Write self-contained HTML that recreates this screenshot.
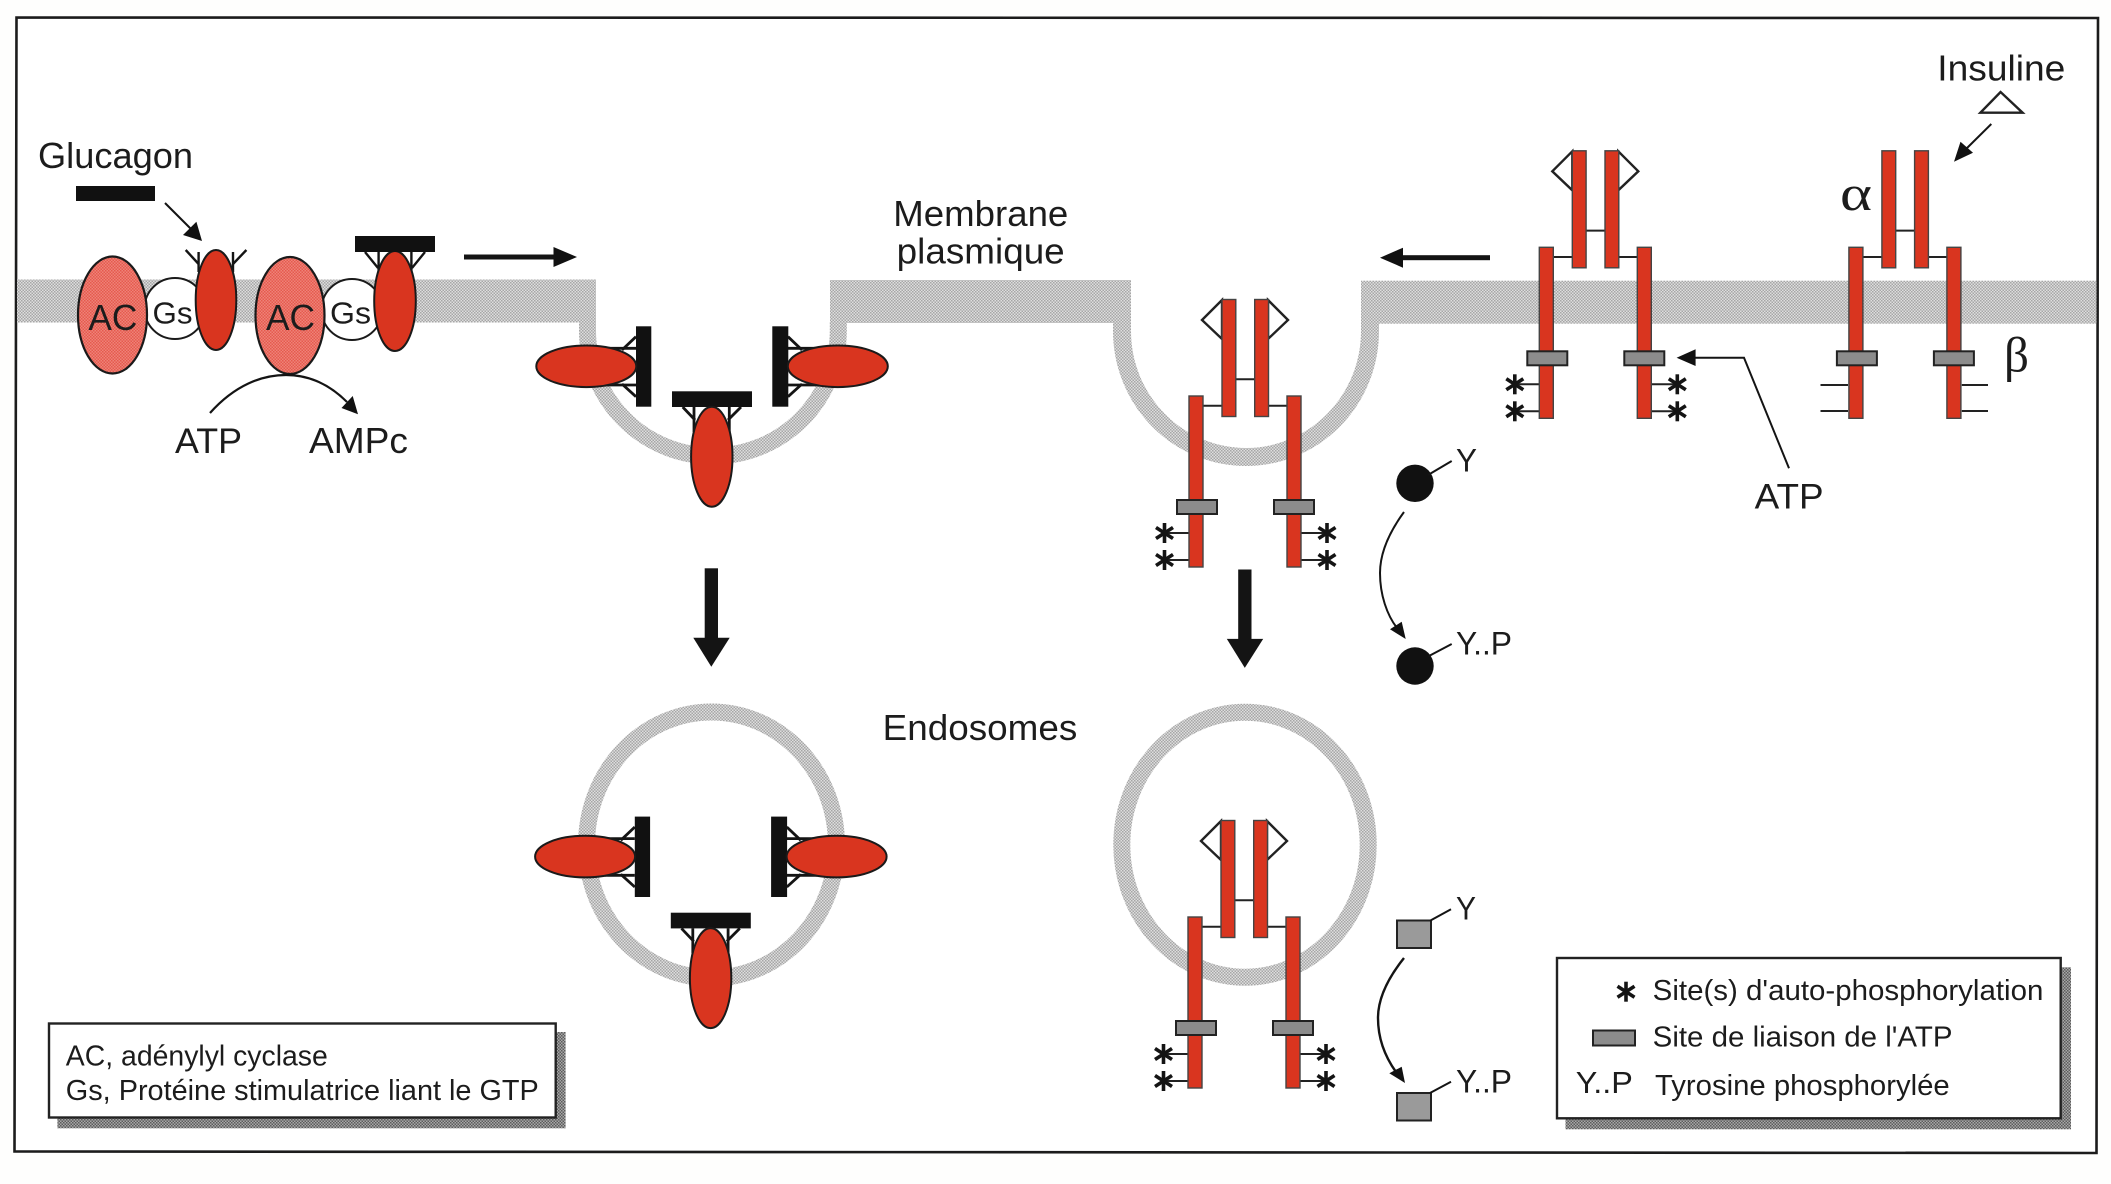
<!DOCTYPE html>
<html><head><meta charset="utf-8">
<style>
html,body{margin:0;padding:0;background:#fefefd;}
svg{display:block;}
text{font-family:"Liberation Sans",sans-serif;fill:#1c1c1c;}
</style></head>
<body>
<svg xmlns="http://www.w3.org/2000/svg" width="2111" height="1184" viewBox="0 0 2111 1184">
<defs>
<pattern id="mem" width="3" height="3" patternUnits="userSpaceOnUse">
<rect width="3" height="3" fill="#dedede"/><rect width="1.5" height="1.5" fill="#a6a6a6"/><rect x="1.5" y="1.5" width="1.5" height="1.5" fill="#a6a6a6"/>
</pattern>
<pattern id="shd" width="3" height="3" patternUnits="userSpaceOnUse">
<rect width="3" height="3" fill="#a8a8a8"/><rect width="1.5" height="1.5" fill="#5c5c5c"/><rect x="1.5" y="1.5" width="1.5" height="1.5" fill="#5c5c5c"/>
</pattern>
<pattern id="sal" width="3" height="3" patternUnits="userSpaceOnUse">
<rect width="3" height="3" fill="#ee8378"/><rect width="1.5" height="1.5" fill="#e55a4e"/><rect x="1.5" y="1.5" width="1.5" height="1.5" fill="#e55a4e"/>
</pattern>
<g id="star" stroke="#141414" stroke-width="3.6" fill="none">
<line x1="0" y1="-10" x2="0" y2="10"/><line x1="-8.5" y1="-5.5" x2="8.5" y2="5.5"/><line x1="-8.5" y1="5.5" x2="8.5" y2="-5.5"/>
</g>
<g id="rec">
<g stroke="#222" stroke-width="2" fill="none">
<line x1="1203" y1="405.7" x2="1222" y2="405.7"/><line x1="1268" y1="405.7" x2="1287" y2="405.7"/><line x1="1235" y1="379.3" x2="1255" y2="379.3"/>
</g>
<g fill="#d9351f" stroke="#444" stroke-width="1.4">
<rect x="1222" y="299.5" width="13.8" height="117"/><rect x="1254.7" y="299.5" width="13.8" height="117"/>
<rect x="1189" y="396" width="14" height="171"/><rect x="1287" y="396" width="14" height="171"/>
</g>
<g fill="#8c8c8c" stroke="#222" stroke-width="2">
<rect x="1177" y="500" width="40" height="14"/><rect x="1274" y="500" width="40" height="14"/>
</g>
</g>
<g id="dia" fill="#fff" stroke="#222" stroke-width="2.4">
<polygon points="1222,300 1202,320 1222,339"/><polygon points="1268,300 1288,320 1268,339"/>
</g>
<g id="stars">
<g stroke="#222" stroke-width="2">
<line x1="1165" y1="533" x2="1189" y2="533"/><line x1="1165" y1="560" x2="1189" y2="560"/>
<line x1="1301" y1="533" x2="1327" y2="533"/><line x1="1301" y1="560" x2="1327" y2="560"/>
</g>
<use href="#star" x="1164.5" y="533"/><use href="#star" x="1164.5" y="560"/>
<use href="#star" x="1327" y="533"/><use href="#star" x="1327" y="560"/>
</g>
<g id="glucset">
<g stroke="#141414" stroke-width="2.8" fill="none">
<line x1="636" y1="336.7" x2="622" y2="350"/><line x1="606" y1="348.3" x2="636" y2="348.3"/>
<line x1="636" y1="396.7" x2="622" y2="384"/><line x1="606" y1="385" x2="636" y2="385"/>
<line x1="788" y1="336.7" x2="802" y2="350"/><line x1="788" y1="348.3" x2="818" y2="348.3"/>
<line x1="788" y1="396.7" x2="802" y2="384"/><line x1="788" y1="385" x2="818" y2="385"/>
</g>
<rect x="636" y="326.3" width="15.3" height="80.4" fill="#111"/>
<rect x="772.3" y="326.3" width="16" height="80.4" fill="#111"/>
<ellipse cx="586.3" cy="366.3" rx="50" ry="20.8" fill="#d9351f" stroke="#1a1a1a" stroke-width="2"/>
<ellipse cx="837.8" cy="366.3" rx="50" ry="20.8" fill="#d9351f" stroke="#1a1a1a" stroke-width="2"/>
</g>
<g id="glucbot">
<g stroke="#141414" stroke-width="2.8" fill="none">
<line x1="682.7" y1="407" x2="695" y2="420"/><line x1="694" y1="407" x2="694" y2="432"/>
<line x1="741" y1="407" x2="728" y2="420"/><line x1="729.3" y1="407" x2="729.3" y2="432"/>
</g>
<rect x="672" y="391.3" width="80" height="15.7" fill="#111"/>
<ellipse cx="711.8" cy="456.7" rx="20.7" ry="50" fill="#d9351f" stroke="#1a1a1a" stroke-width="2"/>
</g>
<g id="downarrow"><rect x="704.7" y="568.3" width="13.3" height="70" fill="#141414"/><polygon points="693.3,637.7 729.7,637.7 711.3,666.7" fill="#141414"/></g>
</defs>

<rect width="2111" height="1184" fill="#fefefd"/>

<!-- frame -->
<polygon points="16.5,17.5 2098,18 2096.5,1153 14.5,1151.5" fill="#ffffff" stroke="#1c1c1c" stroke-width="2.6"/>

<!-- membrane -->
<rect x="17" y="279.5" width="579" height="43" fill="url(#mem)"/>
<rect x="830" y="280" width="301" height="43" fill="url(#mem)"/>
<rect x="1361" y="280.7" width="735.5" height="43" fill="url(#mem)"/>
<path d="M587.5,322 L587.5,330.6 A125.4,125.4 0 0 0 838.3,330.6 L838.3,322" fill="none" stroke="url(#mem)" stroke-width="17"/>
<path d="M1122,322 L1122,331 A124,126 0 0 0 1370,331 L1370,322" fill="none" stroke="url(#mem)" stroke-width="18"/>
<!-- endosomes -->
<ellipse cx="711.5" cy="845" rx="125" ry="133" fill="none" stroke="url(#mem)" stroke-width="17"/>
<ellipse cx="1245" cy="844.7" rx="123.2" ry="132.5" fill="none" stroke="url(#mem)" stroke-width="17"/>

<!-- Glucagon -->
<text x="38" y="168" font-size="36" textLength="155" lengthAdjust="spacingAndGlyphs">Glucagon</text>
<rect x="76" y="186" width="79" height="15" fill="#111"/>
<line x1="165" y1="203" x2="194" y2="232" stroke="#141414" stroke-width="2"/>
<polygon points="202,241 183,235 196.4,221.7" fill="#111"/>

<!-- prongs on first receptor -->
<g stroke="#141414" stroke-width="2.4" fill="none">
<line x1="185.7" y1="250" x2="198.6" y2="264"/><line x1="198.6" y1="252" x2="198.6" y2="272"/>
<line x1="246.4" y1="250" x2="233" y2="264"/><line x1="233" y1="252" x2="233" y2="272"/>
<line x1="365" y1="252" x2="378" y2="268"/><line x1="378.6" y1="252" x2="378.6" y2="275"/>
<line x1="425" y1="252" x2="412" y2="268"/><line x1="411.4" y1="252" x2="411.4" y2="275"/>
</g>

<circle cx="175" cy="308.5" r="30.5" fill="#fff" stroke="#1a1a1a" stroke-width="2"/>
<ellipse cx="112.5" cy="315" rx="34.5" ry="58.5" fill="url(#sal)" stroke="#1a1a1a" stroke-width="2.2"/>
<ellipse cx="216" cy="300" rx="20.3" ry="50" fill="#d9351f" stroke="#1a1a1a" stroke-width="2"/>
<text x="152.5" y="323.5" font-size="31" textLength="40" lengthAdjust="spacingAndGlyphs">Gs</text>
<text x="88.4" y="330" font-size="36" textLength="49" lengthAdjust="spacingAndGlyphs">AC</text>

<circle cx="352" cy="309.5" r="30.5" fill="#fff" stroke="#1a1a1a" stroke-width="2"/>
<ellipse cx="290" cy="315.5" rx="34.5" ry="58.5" fill="url(#sal)" stroke="#1a1a1a" stroke-width="2.2"/>
<ellipse cx="395" cy="301" rx="20.8" ry="50" fill="#d9351f" stroke="#1a1a1a" stroke-width="2"/>
<rect x="355" y="236" width="80" height="16" fill="#111"/>
<text x="330" y="323.5" font-size="31" textLength="41" lengthAdjust="spacingAndGlyphs">Gs</text>
<text x="266" y="330" font-size="36" textLength="49" lengthAdjust="spacingAndGlyphs">AC</text>

<path d="M210,413 C235,385 262,375 286,375 C310,375 330,385 347,402" fill="none" stroke="#141414" stroke-width="2.2"/>
<polygon points="358,414.3 341.5,408 352.7,396" fill="#111"/>
<text x="175" y="453" font-size="35" textLength="67" lengthAdjust="spacingAndGlyphs">ATP</text>
<text x="309" y="453" font-size="36" textLength="99" lengthAdjust="spacingAndGlyphs">AMPc</text>

<!-- horizontal arrows -->
<rect x="464" y="254.5" width="90" height="5" fill="#141414"/>
<polygon points="553.5,247 577,257 553.5,267" fill="#111"/>
<rect x="1402" y="255.2" width="88" height="5" fill="#141414"/>
<polygon points="1403,247.7 1380,257.7 1403,267.7" fill="#111"/>

<!-- Pit 1 -->
<use href="#glucset"/>
<use href="#glucbot"/>
<use href="#downarrow"/>

<!-- Endosome 1 -->
<use href="#glucset" x="-1.2" y="490.3"/>
<use href="#glucbot" x="-1.2" y="521.4"/>

<!-- labels -->
<text x="893.3" y="226" font-size="36.5" textLength="175" lengthAdjust="spacingAndGlyphs">Membrane</text>
<text x="896.7" y="263.3" font-size="36.5" textLength="168" lengthAdjust="spacingAndGlyphs">plasmique</text>
<text x="882.7" y="740" font-size="36.5" textLength="194.6" lengthAdjust="spacingAndGlyphs">Endosomes</text>

<!-- Pit 2 receptor -->
<use href="#stars"/><use href="#dia"/><use href="#rec"/>
<use href="#downarrow" x="533.5" y="1.2"/>

<!-- Endosome 2 receptor -->
<g transform="translate(-1,521)"><use href="#stars"/><use href="#dia"/><use href="#rec"/></g>

<!-- Middle receptor -->
<g transform="translate(350.3,-148.7)"><use href="#stars"/><use href="#dia"/><use href="#rec"/></g>

<!-- Right receptor -->
<g stroke="#222" stroke-width="2">
<line x1="1820.5" y1="385" x2="1848" y2="385"/><line x1="1820.5" y1="411" x2="1848" y2="411"/>
<line x1="1961.8" y1="385" x2="1988" y2="385"/><line x1="1961.8" y1="411" x2="1988" y2="411"/>
</g>
<g transform="translate(659.9,-148.7)"><use href="#rec"/></g>

<!-- Insuline -->
<text x="1937.3" y="80.7" font-size="36.5" textLength="128" lengthAdjust="spacingAndGlyphs">Insuline</text>
<polygon points="2000.6,92 1980.4,112.7 2022.6,112.7" fill="#fff" stroke="#222" stroke-width="2.4"/>
<line x1="1991.3" y1="124" x2="1964" y2="151" stroke="#141414" stroke-width="2"/>
<polygon points="1954,161.7 1973,152.7 1960.5,141.7" fill="#111"/>
<text x="1840" y="210" style="font-family:'Liberation Serif',serif" font-size="50" textLength="32" lengthAdjust="spacingAndGlyphs">α</text>
<text x="2004" y="371.7" style="font-family:'Liberation Serif',serif" font-size="50" textLength="25" lengthAdjust="spacingAndGlyphs">β</text>

<!-- ATP pointer -->
<polyline points="1789,468.3 1744,357.7 1694,357.7" fill="none" stroke="#141414" stroke-width="2"/>
<polygon points="1676.6,357.7 1695.6,349.3 1695.6,366" fill="#111"/>
<text x="1754.6" y="508.3" font-size="35.5" textLength="69" lengthAdjust="spacingAndGlyphs">ATP</text>

<!-- tyrosine circles -->
<circle cx="1415" cy="483.3" r="18.7" fill="#111"/>
<line x1="1428" y1="475" x2="1451.7" y2="461" stroke="#141414" stroke-width="2"/>
<text x="1456" y="471.7" font-size="32" textLength="21" lengthAdjust="spacingAndGlyphs">Y</text>
<path d="M1404,512 C1385,538 1380,558 1380,573 C1380,595 1387,615 1397,628" fill="none" stroke="#141414" stroke-width="2"/>
<polygon points="1405.7,639 1390,629.3 1401.7,621.7" fill="#111"/>
<circle cx="1415" cy="666" r="18.7" fill="#111"/>
<line x1="1428" y1="656.5" x2="1451.7" y2="644" stroke="#141414" stroke-width="2"/>
<text x="1456" y="654.3" font-size="32" textLength="56" lengthAdjust="spacingAndGlyphs">Y..P</text>

<!-- tyrosine squares -->
<rect x="1397" y="920.5" width="34" height="27.5" fill="#9a9a9a" stroke="#222" stroke-width="2"/>
<line x1="1430" y1="920.7" x2="1451" y2="909.3" stroke="#141414" stroke-width="2"/>
<text x="1456" y="919.3" font-size="32" textLength="20" lengthAdjust="spacingAndGlyphs">Y</text>
<path d="M1404,958 C1388,978 1378,998 1378,1018 C1378,1040 1386,1058 1396,1072" fill="none" stroke="#141414" stroke-width="2.4"/>
<polygon points="1405,1083 1389.3,1073.3 1401.7,1066.7" fill="#111"/>
<rect x="1397" y="1093" width="34" height="27.5" fill="#9a9a9a" stroke="#222" stroke-width="2"/>
<line x1="1430" y1="1093" x2="1451" y2="1081.7" stroke="#141414" stroke-width="2"/>
<text x="1456" y="1092.3" font-size="32" textLength="56" lengthAdjust="spacingAndGlyphs">Y..P</text>

<!-- Legend left -->
<rect x="57.4" y="1032" width="508.2" height="96.3" fill="url(#shd)"/>
<rect x="49" y="1023.5" width="506.7" height="94" fill="#fff" stroke="#222" stroke-width="2.4"/>
<text x="65.8" y="1065.7" font-size="28.4" textLength="262" lengthAdjust="spacingAndGlyphs">AC, adénylyl cyclase</text>
<text x="65.8" y="1100" font-size="28.4" textLength="473" lengthAdjust="spacingAndGlyphs">Gs, Protéine stimulatrice liant le GTP</text>

<!-- Legend right -->
<rect x="1565.5" y="967.3" width="505.5" height="162" fill="url(#shd)"/>
<rect x="1557" y="958" width="503.7" height="160.3" fill="#fff" stroke="#222" stroke-width="2.4"/>
<use href="#star" x="1626" y="991.7"/>
<text x="1652.7" y="1000" font-size="28.4" textLength="390.7" lengthAdjust="spacingAndGlyphs">Site(s) d'auto-phosphorylation</text>
<rect x="1593" y="1030.5" width="42" height="15" fill="#8c8c8c" stroke="#222" stroke-width="2"/>
<text x="1652.7" y="1046.7" font-size="28.4" textLength="299.8" lengthAdjust="spacingAndGlyphs">Site de liaison de l'ATP</text>
<text x="1575.8" y="1093" font-size="31" textLength="57" lengthAdjust="spacingAndGlyphs">Y..P</text>
<text x="1655" y="1095" font-size="28.4" textLength="294.7" lengthAdjust="spacingAndGlyphs">Tyrosine phosphorylée</text>
</svg>
</body></html>
